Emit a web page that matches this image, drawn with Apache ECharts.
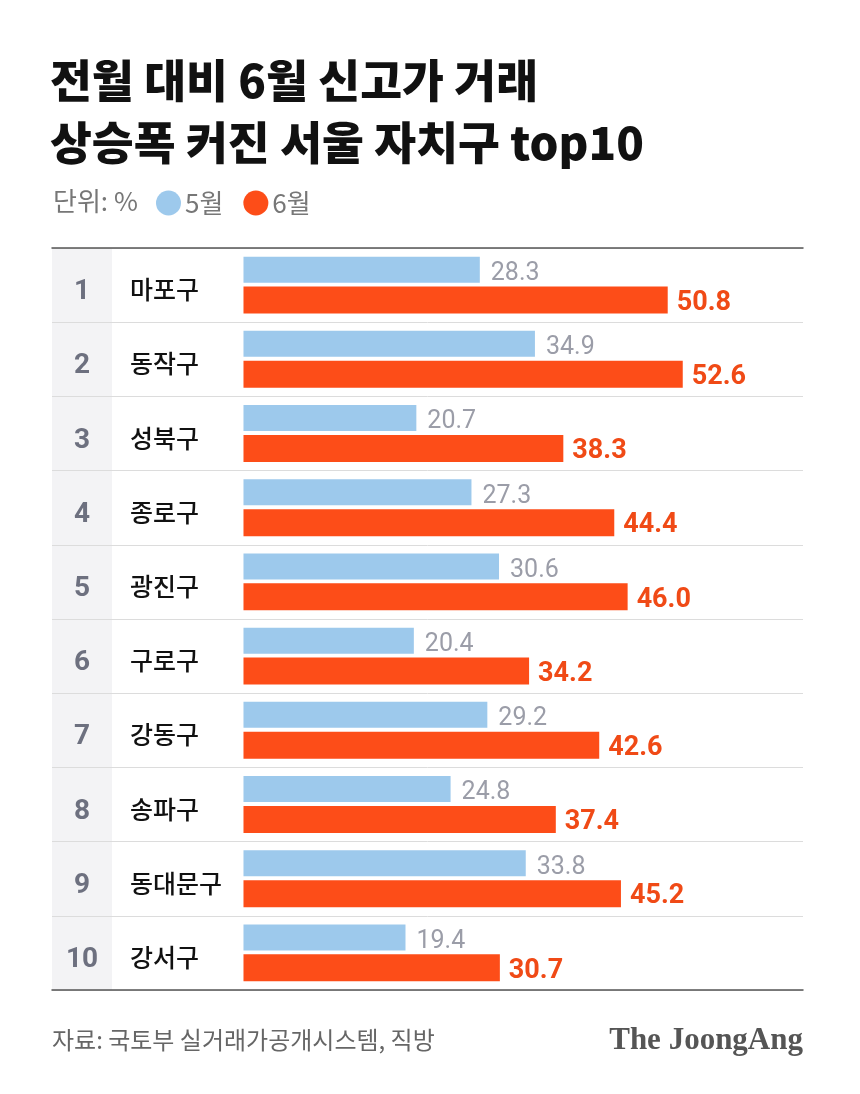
<!DOCTYPE html>
<html>
<head>
<meta charset="utf-8">
<script src="https://cdn.jsdelivr.net/npm/echarts@6/dist/echarts.min.js"></script>
<style>
html,body{margin:0;padding:0;background:#fff;}
#c{width:860px;height:1094px;}
</style>
</head>
<body>
<div id="c"></div>
<script>
const ranks = ['1','2','3','4','5','6','7','8','9','10'];
const districts = ['마포구','동작구','성북구','종로구','광진구','구로구','강동구','송파구','동대문구','강서구'];
const may = [28.3, 34.9, 20.7, 27.3, 30.6, 20.4, 29.2, 24.8, 33.8, 19.4];
const june = [50.8, 52.6, 38.3, 44.4, 46.0, 34.2, 42.6, 37.4, 45.2, 30.7];
const seriesNames = ['5월', '6월'];

const KR = "'Noto Sans CJK KR', 'Noto Sans', sans-serif";
const chart = echarts.init(document.getElementById('c'), null, {renderer: 'canvas'});

const xMin = -22.93, xMax = 67.0;

chart.setOption({
  backgroundColor: '#ffffff',
  animation: false,
  title: [
    {
      text: '전월 대비 6월 신고가 거래\n상승폭 커진 서울 자치구 top10',
      left: 50, top: 50, padding: 0,
      textStyle: {fontFamily: KR, fontSize: 45.5, fontWeight: 900, color: '#111111', lineHeight: 62}
    },
    {
      text: '단위: %',
      left: 53, top: 188, padding: 0,
      textStyle: {fontFamily: KR, fontSize: 26, fontWeight: 400, color: '#777777'}
    },
    {
      text: '자료: 국토부 실거래가공개시스템, 직방',
      left: 52, top: 1028, padding: 0,
      textStyle: {fontFamily: KR, fontSize: 24, fontWeight: 400, color: '#666666'}
    },
    {
      text: 'The JoongAng',
      right: 57, top: 1025, padding: 0,
      textStyle: {fontFamily: "'Liberation Serif', 'DejaVu Serif', serif", fontSize: 31, fontWeight: 'bold', color: '#555555'}
    }
  ],
  legend: {
    data: seriesNames,
    left: 156, top: 190, padding: 0,
    icon: 'circle', itemWidth: 25, itemHeight: 25, itemGap: 20,
    textStyle: {fontFamily: KR, fontSize: 26, color: '#777777', padding: [0,0,0,-1]}
  },
  graphic: [
    {type: 'rect', z: -10, shape: {x: 52, y: 248, width: 60, height: 742}, style: {fill: '#f3f3f5'}}
  ],
  grid: {left: 52, right: 57, top: 248, height: 742, containLabel: false},
  xAxis: [
    {
      type: 'value', min: xMin, max: xMax, position: 'bottom',
      axisLine: {show: true, onZero: false, lineStyle: {color: '#555555', width: 1.5}},
      axisTick: {show: false}, axisLabel: {show: false}, splitLine: {show: false}
    },
    {
      type: 'value', min: xMin, max: xMax, position: 'top',
      axisLine: {show: true, onZero: false, lineStyle: {color: '#555555', width: 1.5}},
      axisTick: {show: false}, axisLabel: {show: false}, splitLine: {show: false}
    }
  ],
  yAxis: {
    type: 'category', data: districts, inverse: true,
    axisLine: {show: false}, axisTick: {show: false},
    splitLine: {show: true, lineStyle: {color: '#dcdcdc', width: 1}},
    axisLabel: {
      inside: true, margin: 0,
      formatter: (v, i) => `{r|${ranks[i]}}{n|${v}}`,
      rich: {
        r: {width: 60, align: 'center', fontFamily: 'Roboto, sans-serif', fontSize: 28, fontWeight: 'bold', color: '#6d707f', padding: [14,0,0,0]},
        n: {fontFamily: KR, fontSize: 25, fontWeight: 500, color: '#111111', padding: [9,0,0,18]}
      }
    }
  },
  series: [
    {
      name: seriesNames[0], type: 'bar', data: may, xAxisIndex: 0,
      barWidth: 26, barGap: '15%',
      itemStyle: {color: '#9dc9ec'},
      label: {show: true, position: 'right', distance: 11, offset: [0, 4], formatter: p => p.value.toFixed(1),
        fontFamily: 'Roboto, sans-serif', fontSize: 25, color: '#9b9da8'}
    },
    {
      name: seriesNames[1], type: 'bar', data: june, xAxisIndex: 0,
      barWidth: 27, barGap: '15%',
      itemStyle: {color: '#fd4d18'},
      label: {show: true, position: 'right', distance: 9, offset: [0, 3], formatter: p => p.value.toFixed(1),
        fontFamily: 'Roboto, sans-serif', fontSize: 27, fontWeight: 'bold', color: '#f04a16'}
    }
  ]
});
</script>
</body>
</html>
